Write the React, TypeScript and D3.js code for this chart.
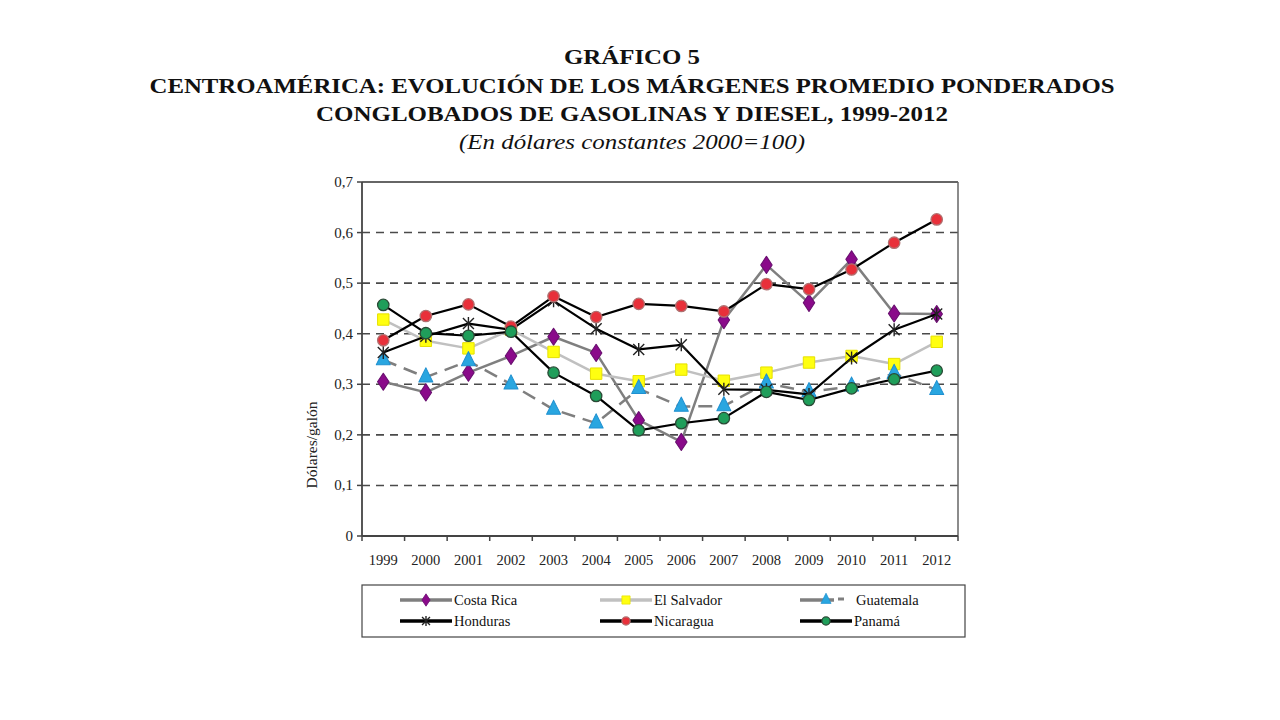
import React from "react";
import * as d3 from "d3";

const years = ["1999","2000","2001","2002","2003","2004","2005","2006","2007","2008","2009","2010","2011","2012"];
const costaRica = [0.305,0.284,0.323,0.356,0.394,0.362,0.229,0.186,0.427,0.536,0.461,0.547,0.44,0.439];
const elSalvador = [0.428,0.386,0.371,0.408,0.364,0.321,0.306,0.329,0.307,0.323,0.343,0.356,0.34,0.384];
const guatemala = [0.348,0.314,0.346,0.300,0.250,0.223,0.291,0.256,0.257,0.302,0.285,0.296,0.321,0.289];
const honduras = [0.363,0.395,0.420,0.408,0.465,0.410,0.369,0.378,0.290,0.289,0.280,0.352,0.408,0.439];
const nicaragua = [0.387,0.435,0.458,0.414,0.474,0.433,0.459,0.455,0.444,0.498,0.488,0.527,0.580,0.626];
const panama = [0.457,0.401,0.396,0.404,0.323,0.277,0.209,0.223,0.233,0.285,0.269,0.292,0.310,0.327];
const yTicks = [0,0.1,0.2,0.3,0.4,0.5,0.6,0.7];

type S = { name: string; values: number[]; line: string; width: number; dash?: string; marker: string; fill: string; stroke: string };
const series: S[] = [
  { name: "Costa Rica", values: costaRica, line: "#7f7f7f", width: 2.5, marker: "diamond", fill: "#8a0a8a", stroke: "#6a1070" },
  { name: "El Salvador", values: elSalvador, line: "#c0c0c0", width: 2.5, marker: "square", fill: "#ffff10", stroke: "#e6e000" },
  { name: "Guatemala", values: guatemala, line: "#7f7f7f", width: 2.5, dash: "14,8", marker: "triangle", fill: "#29a6e0", stroke: "#2090d0" },
  { name: "Honduras", values: honduras, line: "#000000", width: 2.2, marker: "star", fill: "none", stroke: "#222" },
  { name: "Nicaragua", values: nicaragua, line: "#000000", width: 2.2, marker: "circleRed", fill: "#e8303a", stroke: "#b07070" },
  { name: "Panamá", values: panama, line: "#000000", width: 2.2, marker: "circleGreen", fill: "#1f9e5a", stroke: "#2a4a36" },
];

const L = 362, R = 958, T = 182, B = 536;
const x = d3.scaleBand<string>().domain(years).range([L, R]);
const y = d3.scaleLinear().domain([0, 0.7]).range([B, T]);
const cx = (yr: string) => (x(yr) as number) + x.bandwidth() / 2;

function Marker({ kind, fill, stroke, px, py, k = 1 }: { kind: string; fill: string; stroke: string; px: number; py: number; k?: number }) {
  if (kind === "diamond") {
    const p = d3.symbol().type(d3.symbolDiamond).size(85)() as string;
    return <path d={p} transform={`translate(${px},${py}) scale(${1.15 * k},${1.0 * k})`} fill={fill} stroke={stroke} strokeWidth={1} strokeLinejoin="round" />;
  }
  if (kind === "square") {
    const p = d3.symbol().type(d3.symbolSquare).size(130)() as string;
    return <path d={p} transform={`translate(${px},${py}) scale(${k})`} fill={fill} stroke={stroke} strokeWidth={1} />;
  }
  if (kind === "triangle") {
    const p = d3.symbol().type(d3.symbolTriangle).size(95)() as string;
    return <path d={p} transform={`translate(${px},${py}) scale(${0.95 * k},${1.1 * k})`} fill={fill} stroke={stroke} strokeWidth={1} strokeLinejoin="round" />;
  }
  if (kind === "star") {
    const r = 5.5 * k;
    const d = `M${-r},${-r}L${r},${r}M${-r},${r}L${r},${-r}M0,${-r - 1}L0,${r + 1}`;
    return <path d={d} transform={`translate(${px},${py})`} fill="none" stroke={stroke} strokeWidth={1.4} />;
  }
  return <circle cx={px} cy={py} r={5.7 * k} fill={fill} stroke={stroke} strokeWidth={1.3} />;
}

export default function App() {
  const line = d3.line<number>().x((_, i) => cx(years[i])).y((v) => y(v));
  const legendCols = [400, 600, 800];
  const legendRows = [600, 621];
  return (
    <svg width={1280} height={720} style={{ position: "absolute", left: 0, top: 0, background: "#fff" }} fontFamily="'Liberation Serif', 'Times New Roman', serif">
      <rect x={0} y={0} width={1280} height={720} fill="#fff" />
      <g fill="#111" textAnchor="middle" fontWeight="bold">
        <text x={632} y={64} fontSize={21} textLength={136} lengthAdjust="spacingAndGlyphs">GRÁFICO 5</text>
        <text x={632} y={93} fontSize={21} textLength={965} lengthAdjust="spacingAndGlyphs">CENTROAMÉRICA: EVOLUCIÓN DE LOS MÁRGENES PROMEDIO PONDERADOS</text>
        <text x={632} y={121} fontSize={21} textLength={632} lengthAdjust="spacingAndGlyphs">CONGLOBADOS DE GASOLINAS Y DIESEL, 1999-2012</text>
      </g>
      <text x={632} y={149} fontSize={20} fontStyle="italic" textAnchor="middle" fill="#111" textLength={346} lengthAdjust="spacingAndGlyphs">(En dólares constantes 2000=100)</text>

      {yTicks.filter((t) => t > 0 && t < 0.7).map((t) => (
        <line key={t} x1={L} x2={R} y1={y(t)} y2={y(t)} stroke="#4a4a4a" strokeWidth={1.6} strokeDasharray="8,6" />
      ))}
      <line x1={L} x2={R} y1={T} y2={T} stroke="#333" strokeWidth={1.5} />
      <line x1={R} x2={R} y1={T} y2={B} stroke="#666" strokeWidth={1.5} />
      <line x1={L} x2={L} y1={T} y2={B} stroke="#444" strokeWidth={1.8} />
      <line x1={L} x2={R} y1={B} y2={B} stroke="#444" strokeWidth={1.8} />
      {yTicks.map((t) => (
        <g key={t}>
          <line x1={L - 5} x2={L} y1={y(t)} y2={y(t)} stroke="#444" strokeWidth={1.5} />
          <text x={L - 9} y={y(t) + 5} fontSize={15} textAnchor="end" fill="#222">{t === 0 ? "0" : t.toFixed(1).replace(".", ",")}</text>
        </g>
      ))}
      {years.map((yr) => (
        <g key={yr}>
          <line x1={(x(yr) as number) + x.bandwidth()} x2={(x(yr) as number) + x.bandwidth()} y1={B} y2={B + 5} stroke="#444" strokeWidth={1.5} />
          <text x={cx(yr)} y={565} fontSize={14.5} textAnchor="middle" fill="#222">{yr}</text>
        </g>
      ))}
      <line x1={L} x2={L} y1={B} y2={B + 5} stroke="#444" strokeWidth={1.5} />
      <text transform="translate(317,445) rotate(-90)" fontSize={15.5} textAnchor="middle" fill="#222">Dólares/galón</text>

      {series.map((s) => (
        <g key={s.name}>
          <path d={line(s.values) as string} fill="none" stroke={s.line} strokeWidth={s.width} strokeDasharray={s.dash} strokeLinejoin="round" />
          {s.values.map((v, i) => (
            <Marker key={i} kind={s.marker} fill={s.fill} stroke={s.stroke} px={cx(years[i])} py={y(v)} />
          ))}
        </g>
      ))}

      <rect x={362} y={585} width={603} height={52} fill="#fff" stroke="#444" strokeWidth={1.2} />
      {series.map((s, i) => {
        const lx = legendCols[i % 3];
        const ly = legendRows[Math.floor(i / 3)];
        return (
          <g key={s.name}>
            <line x1={lx} x2={s.dash ? lx + 34 : lx + 52} y1={ly} y2={ly} stroke={s.line} strokeWidth={3.5} />
            {s.dash ? <line x1={lx + 38} x2={lx + 44} y1={ly - 1} y2={ly - 1} stroke={s.line} strokeWidth={3} /> : null}
            <Marker kind={s.marker} fill={s.fill} stroke={s.stroke} px={lx + 26} py={ly} k={0.72} />
            <text x={s.dash ? lx + 56 : lx + 54} y={ly + 5} fontSize={14.5} fill="#111">{s.name}</text>
          </g>
        );
      })}
    </svg>
  );
}
